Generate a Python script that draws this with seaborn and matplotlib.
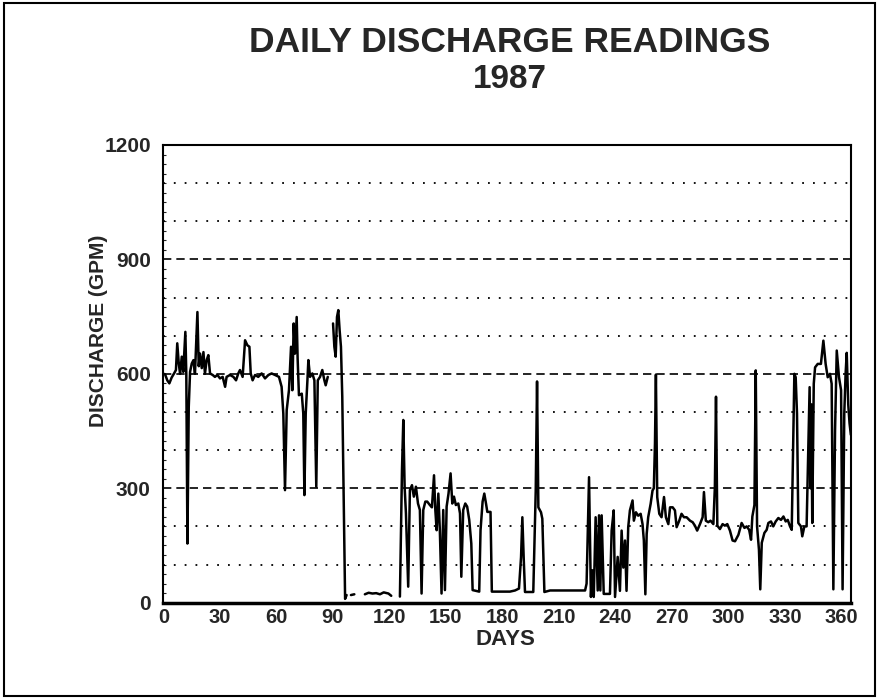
import matplotlib
matplotlib.use("Agg")
import matplotlib.pyplot as plt
import numpy as np
import pandas as pd
import seaborn as sns
from matplotlib.patches import Rectangle

# Daily discharge readings, 1987; NaN marks a gap in the record
days = [
    0, 0.9, 2.1, 3.2, 4.4, 5.7, 6.7, 7.4, 8.2, 8.9, 9.8, 10.6, 11.7, 12.2, 12.8, 13.5, 14.2,
    15.1, 16.0, 16.8, 18.1, 18.8, 19.5, 20.4, 21.3, 22.1, 23.0, 23.9, 24.8, 26.2, 27.4, 28.7,
    30.1, 31.5, 32.8, 33.6, 35.4, 37.2, 38.6, 39.8, 40.7, 42.1, 43.4, 44.6, 45.7, 46.4, 47.4,
    48.7, 50.4, 52.2, 54.0, 55.8, 57.5, 59.3, 61.4, 62.8, 63.7, 64.6, 65.5, 66.7, 67.8, 68.5,
    69.2, 69.9, 70.8, 71.3, 72.0, 73.5, 74.3, 74.9, 75.6, 76.5, 77.0, 77.9, 79.1, 80.2, 81.2,
    82.0, 83.2, 84.4, 85.5, 86.2, 87.3, 88.5,
    90.1, 90.8, 91.5, 92.2, 92.9, 93.6, 94.3, 95.0, 96.5, 97.3, 98.5,
    99.6, 101.4, 104.0,
    107.0, 109.0, 111.0, 113.0, 115.0, 117.0, 119.5, 121.0, 123.0,
    125.6, 126.7, 127.4, 128.1, 128.8, 130.0, 130.9, 132.0, 133.0, 134.1, 135.2, 136.2, 137.1,
    138.0, 139.1, 140.1, 141.5, 142.6, 143.7, 144.4, 145.1, 146.0, 146.8, 147.7, 148.6, 149.5,
    150.4, 151.4, 152.5, 153.4, 154.3, 155.3, 156.6, 157.5, 158.2, 159.2, 160.3, 161.3, 162.4,
    163.5, 164.2, 167.7, 168.4, 169.5, 170.4, 171.3, 172.0, 173.7, 174.4, 178.7, 184.0, 186.7,
    188.8, 189.9, 190.6, 191.3, 192.0, 196.4, 197.7, 198.4, 199.1, 200.5, 201.2, 202.3, 205.3,
    212.4, 223.9, 224.7, 226.0, 227.0, 227.7, 228.5, 229.5, 230.6, 231.3, 232.0, 232.7, 233.8,
    237.1, 238.0, 239.1, 239.8, 241.2, 242.4, 243.3, 244.2, 245.1, 245.9, 246.8, 247.7, 249.1,
    249.8, 250.9, 252.1, 253.4, 254.4, 255.1, 255.9, 256.6, 257.4, 258.7, 259.7, 260.4, 261.0,
    261.5, 262.2, 263.3, 264.5, 265.8, 266.8, 268.1, 269.0, 270.4, 271.6, 272.5, 273.9, 275.1,
    276.4, 277.8, 279.6, 281.0, 282.2, 283.4, 284.9, 286.3, 287.0, 288.0, 289.3, 290.5, 292.0,
    292.8, 293.4, 294.1, 295.5, 296.9, 298.1, 299.4, 300.8, 302.2, 303.5, 305.3, 307.0, 308.5,
    309.7, 311.0, 312.0, 312.7, 313.8, 314.5, 315.2, 316.2, 316.9, 317.7, 319.1, 320.3, 321.2,
    322.6, 323.8, 325.1, 326.5, 327.9, 329.2, 330.4, 331.5, 332.7, 333.6, 334.5, 335.0, 335.7,
    336.4, 337.1, 338.5, 339.2, 340.3, 341.5, 342.4, 343.1, 343.6, 344.0, 344.5, 345.3, 346.0,
    347.4, 349.1, 350.4, 351.6, 352.7, 353.9, 354.8, 355.7, 356.6, 357.5, 358.7, 359.8, 360.6,
    361.5, 362.2, 362.8, 363.6, 364.3, 365.0,
]
discharge = [
    600, 599, 583, 575, 590, 601, 610, 680, 627, 600, 645, 605, 710, 600, 155, 513, 605,
    627, 636, 600, 762, 620, 653, 615, 657, 600, 636, 649, 601, 597, 592, 597,
    588, 592, 566, 592, 597, 592, 583, 601, 610, 592, 688, 675, 671, 601, 583,
    597, 592, 601, 588, 597, 601, 597, 592, 566, 496, 295, 505, 557, 671, 557,
    732, 653, 749, 640, 544, 548, 496, 282, 496, 583, 636, 592, 601, 583, 304,
    583, 592, 610, 583, 570, 592, np.nan,
    732, 671, 645, 749, 767, 714, 671, 540, 10, 20, np.nan,
    20, 22, np.nan,
    22, 26, 24, 25, 22, 27, 24, 18, np.nan,
    16, 348, 479, 304, 234, 42, 295, 308, 278, 304, 260, 243, 24,
    243, 265, 265, 256, 250, 334, 243, 190, 286, 190, 24, 243, 33,
    252, 286, 339, 260, 278, 256, 260, 234, 68, 243, 260, 252, 217,
    155, 33, 29, 190, 265, 286, 260, 238, 238, 29, 29, 29, 32,
    37, 119, 224, 119, 28, 28, 293, 580, 250, 237, 220, 28, 32,
    32, 32, 50, 329, 15, 85, 15, 224, 32, 229, 32, 229, 23,
    23, 189, 242, 15, 120, 31, 189, 92, 163, 31, 198, 242, 268,
    215, 237, 228, 233, 206, 163, 22, 180, 224, 259, 294, 300, 417,
    598, 277, 233, 224, 277, 224, 206, 250, 250, 242, 198, 215, 233,
    224, 224, 215, 211, 202, 189, 206, 224, 290, 215, 211, 215, 206,
    303, 540, 202, 193, 206, 202, 206, 189, 163, 161, 178, 209, 196,
    200, 191, 165, 226, 256, 609, 200, 139, 35, 157, 183, 191, 209,
    213, 200, 213, 222, 217, 226, 213, 217, 200, 191, 452, 600, 591,
    496, 209, 200, 174, 200, 200, 400, 565, 300, 520, 209, 574, 617,
    626, 626, 687, 626, 591, 600, 574, 35, 452, 661, 591, 557, 35,
    496, 600, 655, 520, 470, 440,
]
x_ticks = list(range(0, 361, 30))
y_ticks = [0, 300, 600, 900, 1200]
dashed_levels = [300, 600, 900]
dotted_levels = [100, 200, 400, 500, 700, 800, 1000, 1100]

sns.set_style("white")
plt.rcParams["font.family"] = ["Liberation Sans", "DejaVu Sans"]
plt.rcParams["font.weight"] = "bold"

df = pd.DataFrame({"day": days, "discharge": discharge})
df["segment"] = df["discharge"].isna().cumsum()
df = df.dropna()

fig = plt.figure(figsize=(8.79, 6.99), dpi=100)
ax = fig.add_axes([0.1858, 0.1378, 0.7822, 0.6548])

for lvl in dotted_levels:
    ax.axhline(lvl, color="black", linewidth=1.3, linestyle=(0, (1, 5)), zorder=1)
for lvl in dashed_levels:
    ax.axhline(lvl, color="black", linewidth=1.2, linestyle=(0, (5, 3)), zorder=1)

sns.lineplot(data=df, x="day", y="discharge", units="segment", estimator=None,
             color="black", linewidth=1.8, ax=ax, zorder=3)

ax.set_xlim(0, 365)
ax.set_ylim(0, 1200)
ax.set_xticks(x_ticks)
ax.set_yticks(y_ticks)
ax.set_yticks(np.arange(0, 1201, 25), minor=True)
ax.tick_params(axis="x", direction="in", length=6, width=1.3, labelsize=14.5, pad=4)
ax.tick_params(axis="y", which="major", length=0, labelsize=15, pad=9)
ax.tick_params(axis="y", which="minor", direction="in", length=2.5, width=0.8, left=True)

for side in ["left", "right", "top"]:
    ax.spines[side].set_linewidth(1.5)
    ax.spines[side].set_color("black")
ax.spines["bottom"].set_linewidth(2.5)
ax.spines["bottom"].set_color("black")

ax.set_xlabel("DAYS", fontsize=16, fontweight="bold")
ax.xaxis.set_label_coords(0.497, -0.058)
ax.set_ylabel("DISCHARGE (GPM)", fontsize=15, fontweight="bold")
ax.yaxis.set_label_coords(-0.081, 0.595)

fig.text(0.58, 1 - 42 / 699, "DAILY DISCHARGE READINGS", ha="center", va="center",
         fontsize=25.5, fontweight="bold")
fig.text(0.58, 1 - 80 / 699, "1987", ha="center", va="center", fontsize=24, fontweight="bold")

fig.patches.append(Rectangle((0.004, 0.004), 0.992, 0.992, transform=fig.transFigure,
                             fill=False, edgecolor="black", linewidth=1.5))

fig.savefig("out.png", dpi=100)
